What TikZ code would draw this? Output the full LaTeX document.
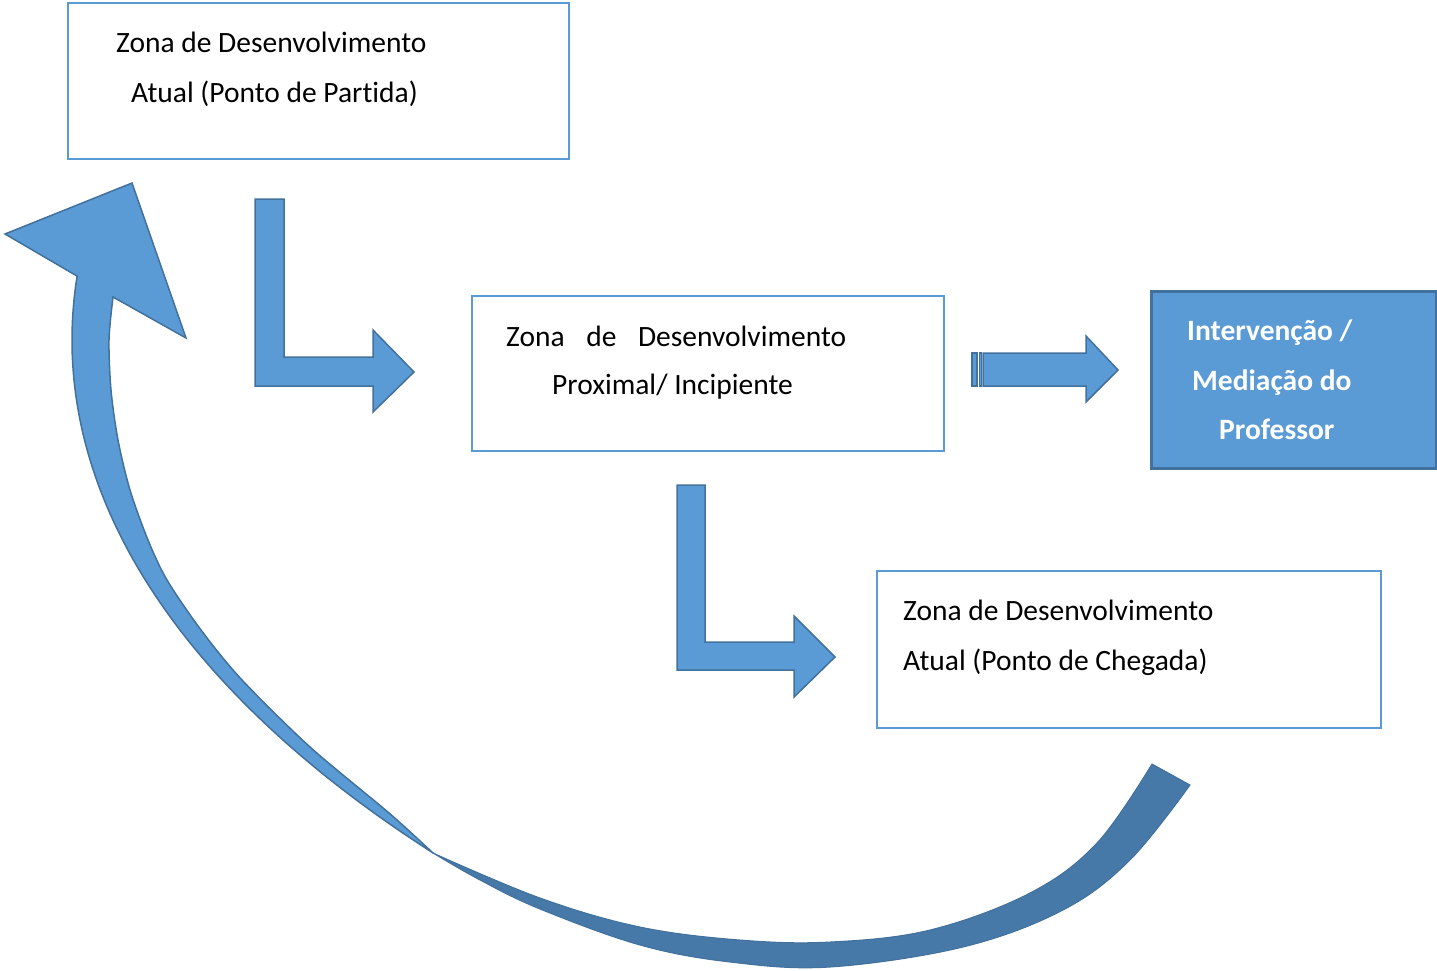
\documentclass[tikz,border=0pt]{standalone}
\usepackage{fontspec}
\setmainfont{Carlito}[Ligatures=NoCommon]
\definecolor{lb}{HTML}{5B9BD5}
\definecolor{db}{HTML}{41719C}
\definecolor{bk}{HTML}{4779A8}
\begin{document}
\begin{tikzpicture}[x=1pt,y=-1pt,
  zbox/.style={draw=lb, line width=2pt, fill=white, inner sep=0pt, anchor=north west},
  fbox/.style={draw=db, line width=2.5pt, fill=lb, inner sep=0pt, anchor=north west},
  txt/.style={anchor=base west, inner sep=0pt, font=\fontsize{29.5}{35}\selectfont},
  wtxt/.style={anchor=base west, inner sep=0pt, font=\fontsize{29.5}{35}\selectfont\bfseries, text=white},
  blk/.style={fill=lb, draw=db, line width=1.5pt, line join=miter},
  back/.style={fill=bk, draw=db, line width=1pt},
]
\useasboundingbox (0,0) rectangle (1437,970);

% boxes
\node[zbox, minimum width=501pt, minimum height=156pt] (z1) at (67,2) {};
\node[zbox, minimum width=472pt, minimum height=155pt] (z2) at (471,295) {};
\node[fbox, minimum width=285pt, minimum height=177pt] (m) at (1150,290) {};
\node[zbox, minimum width=504pt, minimum height=157pt] (z3) at (876,570) {};

% texts
\node[txt] (t1a) at (116,52) {Zona de Desenvolvimento};
\node[txt] (t1b) at (131,102) {Atual (Ponto de Partida)};
\node[txt] (t2a) at (506,346) {\makebox[340pt][s]{Zona de Desenvolvimento}};
\node[txt] (t2b) at (552,394) {Proximal/ Incipiente};
\node[wtxt] (t3a) at (1187,340) {Intervenção /};
\node[wtxt] (t3b) at (1192,390) {Mediação do};
\node[wtxt] (t3c) at (1219,439) {Professor};
\node[txt] (t4a) at (903,620) {Zona de Desenvolvimento};
\node[txt] (t4b) at (903,670) {Atual (Ponto de Chegada)};

% bent arrows
\filldraw[blk] (255,199) -- (284,199) -- (284,357) -- (373,357) -- (373,330) -- (414,372)
  -- (373,412) -- (373,386) -- (255,386) -- cycle;
\filldraw[blk] (677,485) -- (705,485) -- (705,642) -- (794,642) -- (794,616) -- (835,657)
  -- (794,697) -- (794,670) -- (677,670) -- cycle;

% striped right arrow
\filldraw[blk] (972,353) rectangle (977,386);
\filldraw[blk] (979.5,353) rectangle (981.5,386);
\filldraw[blk] (983,353) -- (1086,353) -- (1086,336) -- (1118,370) -- (1086,402)
  -- (1086,386) -- (983,386) -- cycle;

% curved arrow: back (dark) part
\filldraw[back] plot[smooth, tension=0.6] coordinates {(433,853) (540,898) (640,927) (740,940) (830,942) (930,930) (1030,893) (1097,843) (1152,764)}
  -- plot[smooth, tension=0.6] coordinates {(1190,785) (1130,860) (1063,910) (963,947) (830,967) (730,962) (640,945) (540,909) (480,880) (433,853)} -- cycle;

% curved arrow: front (light) part with head
\filldraw[blk] (77,276) -- (5,234) -- (132,183) -- (186,338) -- (113,297)
  -- plot[smooth, tension=0.5] coordinates {(113,297) (109,340) (111,390) (118,440) (130,490) (148,540) (167,580) (201,630) (242,680) (310,747) (389,813) (433,853)}
  -- plot[domain=853:276, samples=120] ({72+2025*(1-sqrt(1-((\x-340)/900)*((\x-340)/900)))}, \x) -- cycle;
\end{tikzpicture}
\end{document}
